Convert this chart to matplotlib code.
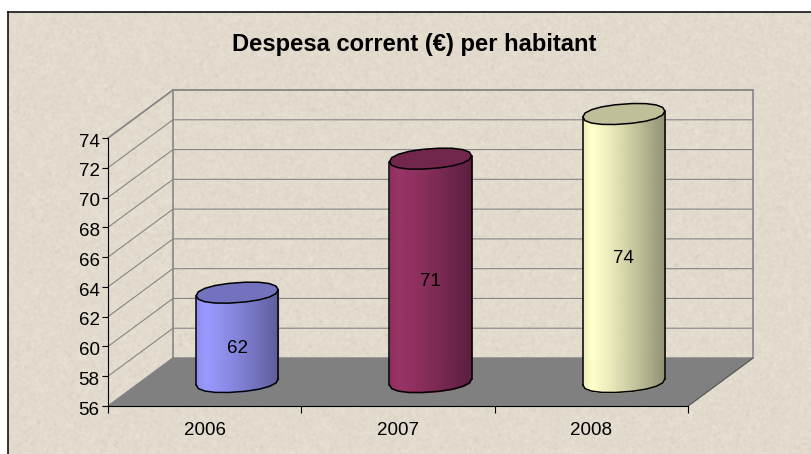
import numpy as np
import matplotlib
matplotlib.use('Agg')
import matplotlib.pyplot as plt
from matplotlib.colors import to_rgb
from matplotlib.transforms import ScaledTranslation

plt.rcParams['font.family'] = ['Liberation Sans', 'DejaVu Sans']

years = ['2006', '2007', '2008']
values = [62, 71, 74]
y_ticks = [56, 58, 60, 62, 64, 66, 68, 70, 72, 74]
title = 'Despesa corrent (€) per habitant'

side_light = ['#9999ff', '#993366', '#ffffcc']
side_dark = ['#5c5c99', '#5a1e3d', '#8f8f72']
top_color = ['#7272bf', '#72264c', '#bfbf99']

W, H = 812, 454
GREY = '#868686'

# depth of the 3d box, in data units (65 px right, 48 px up)
DEPTH_X = 65 / (580 / 3)
DEPTH_Y = 48 / (268 / 18)


def project(cat, val, depth):
    return cat + DEPTH_X * depth, val + DEPTH_Y * depth


fig = plt.figure(figsize=(W / 100, H / 100), dpi=100, facecolor='white')

# paper texture behind everything
bg = fig.add_axes([8 / W, 0, (W - 8) / W, (H - 12) / H])
rng = np.random.default_rng(4)
noise = rng.normal(0, 1, (H - 12, W - 8))
kernel = np.ones(3) / 3
soft = np.apply_along_axis(lambda r: np.convolve(r, kernel, mode='same'), 0, noise)
soft = np.apply_along_axis(lambda r: np.convolve(r, kernel, mode='same'), 1, soft)
specks = (rng.random((H - 12, W - 8)) > 0.9985) * -45.0
for axis in (0, 1):
    specks = np.apply_along_axis(lambda r: np.convolve(r, kernel, mode='same'), axis, specks)
base = np.array([226, 219, 206], dtype=float)
tex = base[None, None, :] + (soft * 7 + specks)[:, :, None]
bg.imshow(np.clip(tex, 0, 255).astype(np.uint8), aspect='auto', interpolation='bilinear')
bg.set_xticks([])
bg.set_yticks([])
bg.spines['right'].set_visible(False)
bg.spines['bottom'].set_visible(False)
bg.spines['top'].set_linewidth(1.1)
bg.spines['left'].set_linewidth(1.1)

# front plane of the chart is the real axes
ax = fig.add_axes([108 / W, (H - 406) / H, 580 / W, 268 / H])
ax.patch.set_visible(False)
ax.set_xlim(0, 3)
ax.set_ylim(56, 74)
ax.spines['top'].set_visible(False)
ax.spines['right'].set_visible(False)
ax.spines['left'].set_linewidth(0.8)
ax.spines['bottom'].set_linewidth(0.8)

ax.set_yticks(y_ticks)
ax.tick_params(axis='y', length=4, width=0.8, pad=2, labelsize=13.5)
ax.set_xticks([0, 1, 2, 3])
ax.set_xticklabels([])
ax.tick_params(axis='x', which='major', length=5, width=0.8)
ax.set_xticks([0.5, 1.5, 2.5], minor=True)
ax.set_xticklabels(years, minor=True)
ax.tick_params(axis='x', which='minor', length=0, pad=11.5, labelsize=13.5)

# y labels sit a little lower than the ticks in the original
down = ScaledTranslation(0, -2.2 / 100, fig.dpi_scale_trans)
for lbl in ax.get_yticklabels():
    lbl.set_transform(lbl.get_transform() + down)

# floor
fx, fy = zip(*[project(0, 56, 0), project(3, 56, 0), project(3, 56, 1), project(0, 56, 1)])
ax.fill(fx, fy, color='#808080', clip_on=False, zorder=1)

# walls and gridlines
for v in y_ticks[1:]:
    x0, y0 = project(0, v, 0)
    x1, y1 = project(0, v, 1)
    x2, y2 = project(3, v, 1)
    ax.plot([x0, x1, x2], [y0, y1, y2], color=GREY, lw=0.8, clip_on=False, zorder=0.5)
x0, y0 = project(0, 56, 1)
x1, y1 = project(0, 74, 1)
ax.plot([x0, x1], [y0, y1], color=GREY, lw=1.2, clip_on=False, zorder=0.5)
x2, y2 = project(3, 56, 1)
x3, y3 = project(3, 74, 1)
ax.plot([x2, x3, x1], [y2, y3, y1], color=GREY, lw=1.2, clip_on=False, zorder=0.5)
x4, y4 = project(0, 74, 0)
ax.plot([x4, x1], [y4, y1], color=GREY, lw=1.2, clip_on=False, zorder=0.5)
x5, y5 = project(3, 56, 0)
ax.plot([x5, x2], [y5, y2], color='#555555', lw=0.7, clip_on=False, zorder=1.1)

# cylinders: blunt ellipse of 41 x 10 px, slightly tilted, drawn as a coarse polygon
rx = 41 / (580 / 3)
ry = 10 / (268 / 18)
tilt = 3 / (268 / 18)
t = np.linspace(0, 2 * np.pi, 19)
blunt_c = np.sign(np.cos(t)) * np.abs(np.cos(t)) ** 0.9
blunt_s = np.sign(np.sin(t)) * np.abs(np.sin(t)) ** 0.9
ell_x = rx * blunt_c
ell_y = tilt * blunt_c + ry * blunt_s
front = np.argsort(ell_x[9:])
front_x = ell_x[9:][front]
front_y = ell_y[9:][front]

for i, (year, val) in enumerate(zip(years, values)):
    cx, base_y = project(i + 0.5, 56, 0.5)
    top_y = base_y + val - 56
    light = np.array(to_rgb(side_light[i]))
    dark = np.array(to_rgb(side_dark[i]))
    edges = np.linspace(-rx, rx, 41)
    for a, b in zip(edges[:-1], edges[1:]):
        frac = (a + rx) / (2 * rx)
        if frac < 0.1:
            col = light * (0.93 + 0.7 * frac)
        else:
            col = light + (dark - light) * ((frac - 0.1) / 0.9) ** 1.2
        xs = np.array([a, b])
        ys = np.interp(xs, front_x, front_y)
        ax.fill_between(cx + xs, base_y + ys, top_y + ys, color=np.clip(col, 0, 1), lw=0.6,
                        clip_on=False, zorder=2)
    # outline of the side and the top face
    ax.plot(cx + front_x, base_y + front_y, color='black', lw=1.1, clip_on=False, zorder=3)
    ax.plot([cx - rx, cx - rx], [base_y - tilt, top_y - tilt], color='black', lw=1.1, clip_on=False, zorder=3)
    ax.plot([cx + rx, cx + rx], [base_y + tilt, top_y + tilt], color='black', lw=1.1, clip_on=False, zorder=3)
    ax.fill(cx + ell_x, top_y + ell_y, facecolor=top_color[i], edgecolor='black', lw=1.1,
            clip_on=False, zorder=3)
    ax.annotate(str(val), xy=(cx, (base_y + top_y) / 2), xytext=(0, -7.8), textcoords='offset points',
                ha='center', va='center', fontsize=13.5, color='black', zorder=4, annotation_clip=False)

fig.text(414 / W, 1 - 44.5 / H, title, ha='center', va='center', fontsize=17.1, fontweight='bold', color='black')

fig.savefig('out.png', dpi=100)
